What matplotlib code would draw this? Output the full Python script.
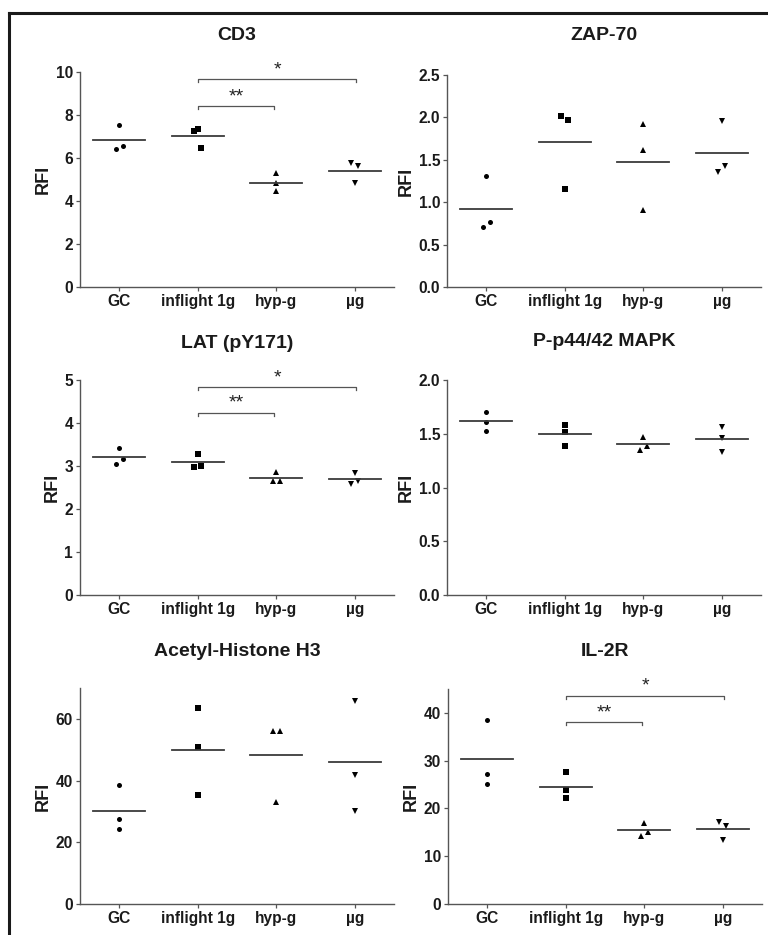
import matplotlib
matplotlib.use("Agg")
import matplotlib.pyplot as plt
from matplotlib.lines import Line2D
import numpy as np

plt.rcParams['font.family'] = ['Liberation Sans', 'DejaVu Sans']

categories = ["GC", "inflight 1g", "hyp-g", "µg"]
markers = ["o", "s", "^", "v"]

titles = ["CD3", "ZAP-70", "LAT (pY171)", "P-p44/42 MAPK", "Acetyl-Histone H3", "IL-2R"]

cd3_vals = [[7.54, 6.41, 6.55], [7.33, 7.25, 6.46], [5.29, 4.82, 4.47], [5.77, 5.61, 4.84]]
cd3_off = [[0, -1, 1], [0, -1, 1], [0, 0, 0], [-1, 1, 0]]

zap70_vals = [[1.305, 0.704, 0.763], [2.02, 1.965, 1.156], [1.922, 1.61, 0.904], [1.954, 1.431, 1.352]]
zap70_off = [[0, -1, 1], [-1, 1, 0], [0, 0, 0], [0, 1, -1]]

lat_vals = [[3.43, 3.05, 3.17], [3.29, 2.98, 3.01], [2.85, 2.64, 2.64], [2.83, 2.59, 2.64]]
lat_off = [[0, -1, 1], [0, -1, 1], [0, -1, 1], [0, -1, 1]]

mapk_vals = [[1.705, 1.609, 1.529], [1.581, 1.519, 1.389], [1.473, 1.352, 1.389], [1.566, 1.457, 1.333]]
mapk_off = [[0, 0, 0], [0, 0, 0], [0, -1, 1], [0, 0, 0]]

ach3_vals = [[38.5, 27.4, 24.3], [63.6, 50.8, 35.2], [56.0, 56.0, 32.9], [65.8, 41.8, 30.3]]
ach3_off = [[0, 0, 0], [0, 0, 0], [-1, 1, 0], [0, 0, 0]]

il2r_vals = [[38.5, 27.3, 25.1], [27.6, 23.9, 22.2], [17.0, 14.2, 15.0], [17.2, 16.3, 13.3]]
il2r_off = [[0, 0, 0], [0, 0, 0], [0, -1, 1], [-1, 1, 0]]

ylims = [10, 2.5, 5, 2.0, 70, 45]
yticks = [[0, 2, 4, 6, 8, 10],
          [0.0, 0.5, 1.0, 1.5, 2.0, 2.5],
          [0, 1, 2, 3, 4, 5],
          [0.0, 0.5, 1.0, 1.5, 2.0],
          [0, 20, 40, 60],
          [0, 10, 20, 30, 40]]
ytick_fmt = ["{:.0f}", "{:.1f}", "{:.0f}", "{:.1f}", "{:.0f}", "{:.0f}"]

# significance brackets: (from_group, to_group, y, label)
brackets = {
    0: [(1, 1.97, 8.41, "**"), (1, 3.02, 9.66, "*")],
    2: [(1, 1.97, 4.24, "**"), (1, 3.02, 4.84, "*")],
    5: [(1, 1.97, 38.1, "**"), (1, 3.02, 43.6, "*")],
}

all_vals = [cd3_vals, zap70_vals, lat_vals, mapk_vals, ach3_vals, il2r_vals]
all_offs = [cd3_off, zap70_off, lat_off, mapk_off, ach3_off, il2r_off]

W, H = 768, 935
fig = plt.figure(figsize=(W / 100, H / 100), dpi=100)

# axes pixel boxes: left, top, right, bottom
boxes = [(80, 72, 394, 287), (447, 75, 761, 287),
         (80, 380, 394, 595), (447, 380, 761, 595),
         (80, 688, 394, 904), (448, 689, 762, 904)]

title_y = [36, 36, 343, 342, 652, 652]
msizes = [3.6, 3.9, 4.0, 4.0]

for i in range(6):
    l, t, r, b = boxes[i]
    ax = fig.add_axes([l / W, (H - b) / H, (r - l) / W, (b - t) / H])
    vals = all_vals[i]
    offs = all_offs[i]
    for g in range(4):
        xs = np.array([g + 0.043 * o for o in offs[g]])
        ax.plot(xs, vals[g], linestyle='none', marker=markers[g], ms=msizes[g],
                color='black', mew=0, clip_on=False)
        m = np.mean(vals[g])
        ax.plot([g - 0.33, g + 0.33], [m, m], color='#3a3a3a', lw=1.3)
    if i in brackets:
        for (g1, g2, y, lab) in brackets[i]:
            d = ylims[i] * 0.014
            ax.plot([g1, g1, g2, g2], [y - d, y, y, y - d], color='#555555', lw=0.9)
            ax.text((g1 + g2) / 2, y + ylims[i] * 0.004, lab, ha='center', va='bottom',
                    fontsize=14, color='#222222')
    ax.set_xlim(-0.5, 3.5)
    ax.set_ylim(0, ylims[i])
    ax.set_xticks(range(4))
    ax.set_xticklabels(categories, fontsize=11.2, fontweight='bold', color='#1a1a1a')
    ax.set_yticks(yticks[i])
    ax.set_yticklabels([ytick_fmt[i].format(v) for v in yticks[i]], fontsize=11.2,
                       fontweight='bold', color='#1a1a1a')
    ax.set_ylabel("RFI", fontsize=13, fontweight='bold', labelpad=3, color='#1a1a1a')
    for s in ['top', 'right']:
        ax.spines[s].set_visible(False)
    for s in ['left', 'bottom']:
        ax.spines[s].set_color('#555555')
        ax.spines[s].set_linewidth(1.0)
    ax.tick_params(axis='both', length=3, width=0.9, color='#555555', pad=2)
    cx = (l + r) / 2
    fig.text(cx / W, 1 - title_y[i] / H, titles[i], ha='center', va='center',
             fontsize=14, fontweight='bold', color='#1a1a1a')

# frame lines (top and left)
fig.add_artist(Line2D([8.5 / W, 8.5 / W], [0, 1 - 12.8 / H], color='#1a1a1a', lw=2.2,
                      transform=fig.transFigure, solid_capstyle='projecting'))
fig.add_artist(Line2D([8.5 / W, 1], [1 - 12.8 / H, 1 - 12.8 / H], color='#1a1a1a', lw=2.2,
                      transform=fig.transFigure, solid_capstyle='projecting'))

fig.savefig("out.png", dpi=100)
